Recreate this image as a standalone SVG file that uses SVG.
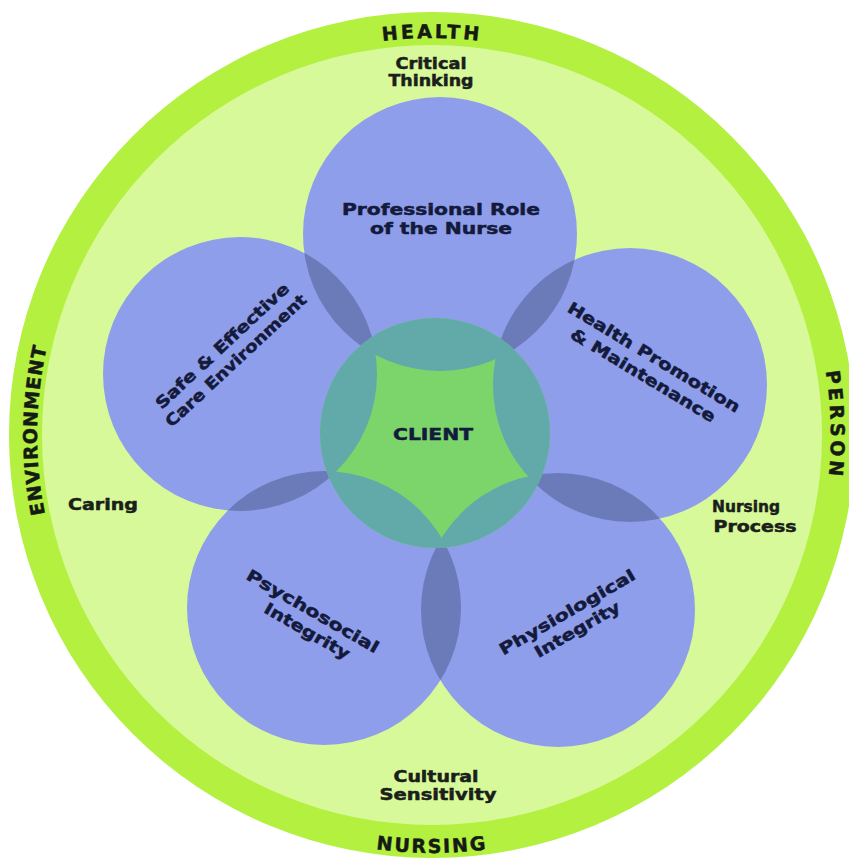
<svg xmlns="http://www.w3.org/2000/svg" width="849" height="859" viewBox="0 0 849 859">
<style>
.lbl{font-family:"DejaVu Sans","Liberation Sans",sans-serif;font-weight:bold;font-size:16px;fill:#131a3c;stroke:#131a3c;stroke-width:0.5px;text-anchor:middle}
.out{font-family:"DejaVu Sans","Liberation Sans",sans-serif;font-weight:bold;font-size:15px;fill:#1a1f1a;stroke:#1a1f1a;stroke-width:0.5px;text-anchor:middle}
.ring{font-family:"DejaVu Sans","Liberation Sans",sans-serif;font-weight:bold;font-size:19px;fill:#151a15;stroke:#151a15;stroke-width:0.5px;text-anchor:middle}
.blue{fill:#8f9eea}
.lens{fill:#6b7bb9}
.teal{fill:#62a9a9}
</style>
<defs>
<clipPath id="cTop"><circle cx="440" cy="234" r="137"/></clipPath>
<clipPath id="cLeft"><circle cx="240" cy="374" r="137"/></clipPath>
<clipPath id="cRight"><circle cx="630" cy="385" r="137"/></clipPath>
<clipPath id="cBL"><circle cx="324" cy="608" r="137"/></clipPath>
<clipPath id="cBR"><circle cx="558" cy="610" r="137"/></clipPath>
<clipPath id="cClient"><circle cx="435" cy="433" r="115"/></clipPath>
<path id="arcTop" d="M35,435 A397,397 0 0 1 829,435"/>
<path id="arcBottom" d="M14,435 A418,418 0 0 0 850,435"/>
<path id="arcLeft" d="M432,830 A395,395 0 0 1 432,40"/>
<path id="arcRight" d="M432,36 A399,399 0 0 1 432,834"/>
</defs>
<rect width="849" height="859" fill="#ffffff"/>
<g id="ring">
<circle cx="432" cy="435" r="423" fill="#b3f040"/>
<circle cx="432" cy="435" r="390" fill="#d8f99a"/>
<text class="ring" letter-spacing="3"><textPath href="#arcTop" startOffset="50%">HEALTH</textPath></text>
<text class="ring" letter-spacing="2"><textPath href="#arcBottom" startOffset="50%">NURSING</textPath></text>
<text class="ring" letter-spacing="1"><textPath href="#arcLeft" startOffset="50.4%">ENVIRONMENT</textPath></text>
<text class="ring" letter-spacing="3.5"><textPath href="#arcRight" startOffset="49.2%">PERSON</textPath></text>
</g>
<g id="circles">
<circle class="blue" cx="440" cy="234" r="137"/>
<circle class="blue" cx="240" cy="374" r="137"/>
<circle class="blue" cx="630" cy="385" r="137"/>
<circle class="blue" cx="324" cy="608" r="137"/>
<circle class="blue" cx="558" cy="610" r="137"/>
<circle class="lens" cx="240" cy="374" r="137" clip-path="url(#cTop)"/>
<circle class="lens" cx="630" cy="385" r="137" clip-path="url(#cTop)"/>
<circle class="lens" cx="558" cy="610" r="137" clip-path="url(#cRight)"/>
<circle class="lens" cx="324" cy="608" r="137" clip-path="url(#cBR)"/>
<circle class="lens" cx="240" cy="374" r="137" clip-path="url(#cBL)"/>
<circle cx="435" cy="433" r="115" fill="#7bd56b"/>
<g clip-path="url(#cClient)">
<circle class="teal" cx="440" cy="234" r="137"/>
<circle class="teal" cx="240" cy="374" r="137"/>
<circle class="teal" cx="630" cy="385" r="137"/>
<circle class="teal" cx="324" cy="608" r="137"/>
<circle class="teal" cx="558" cy="610" r="137"/>
</g>
</g>
<g id="connectors"/>
<g id="node-professional">
<text class="lbl" x="441" y="215" textLength="198" lengthAdjust="spacingAndGlyphs">Professional Role</text>
<text class="lbl" x="441" y="234" textLength="142" lengthAdjust="spacingAndGlyphs">of the Nurse</text>
</g>
<g id="node-safe" transform="translate(226,350) rotate(-43)">
<text class="lbl" x="0" y="0" textLength="176" lengthAdjust="spacingAndGlyphs">Safe &amp; Effective</text>
<text class="lbl" x="0" y="20" textLength="186" lengthAdjust="spacingAndGlyphs">Care Environment</text>
</g>
<g id="node-health" transform="translate(651,362) rotate(31)">
<text class="lbl" x="0" y="0" textLength="198" lengthAdjust="spacingAndGlyphs">Health Promotion</text>
<text class="lbl" x="0" y="21" textLength="166" lengthAdjust="spacingAndGlyphs">&amp; Maintenance</text>
</g>
<g id="node-psycho" transform="translate(310,616) rotate(30)">
<text class="lbl" x="0" y="0" textLength="150" lengthAdjust="spacingAndGlyphs">Psychosocial</text>
<text class="lbl" x="5" y="20" textLength="96" lengthAdjust="spacingAndGlyphs">Integrity</text>
</g>
<g id="node-physio" transform="translate(570,617) rotate(-30)">
<text class="lbl" x="0" y="0" textLength="154" lengthAdjust="spacingAndGlyphs">Physiological</text>
<text class="lbl" x="0" y="20" textLength="96" lengthAdjust="spacingAndGlyphs">Integrity</text>
</g>
<g id="node-client">
<text class="lbl" x="433" y="440" textLength="80" lengthAdjust="spacingAndGlyphs">CLIENT</text>
</g>
<g id="outer-labels">
<text class="out" x="431" y="69" textLength="71" lengthAdjust="spacingAndGlyphs">Critical</text>
<text class="out" x="431" y="86" textLength="85" lengthAdjust="spacingAndGlyphs">Thinking</text>
<text class="out" x="103" y="510" textLength="70" lengthAdjust="spacingAndGlyphs">Caring</text>
<text class="out" x="746" y="512" textLength="68" lengthAdjust="spacingAndGlyphs">Nursing</text>
<text class="out" x="755" y="532" textLength="83" lengthAdjust="spacingAndGlyphs">Process</text>
<text class="out" x="436" y="782" textLength="85" lengthAdjust="spacingAndGlyphs">Cultural</text>
<text class="out" x="438" y="800" textLength="117" lengthAdjust="spacingAndGlyphs">Sensitivity</text>
</g>
</svg>
